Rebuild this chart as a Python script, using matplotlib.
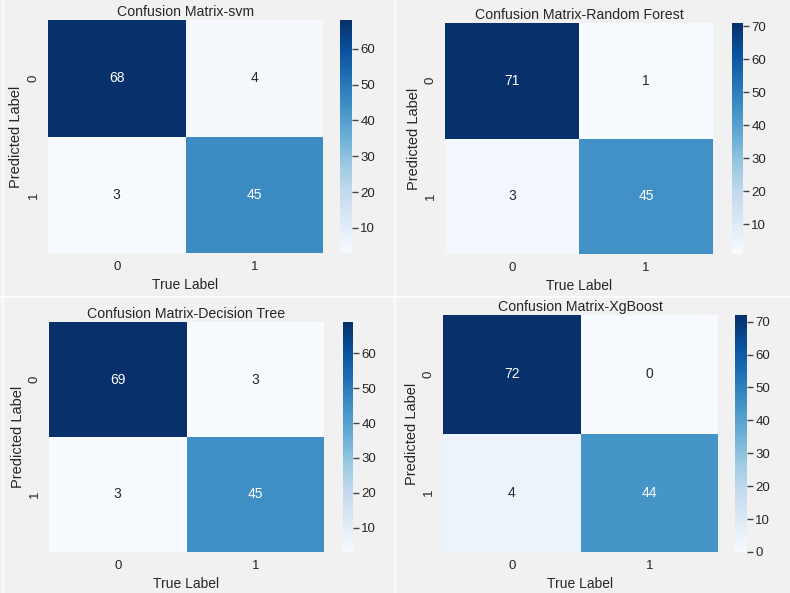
import numpy as np
import matplotlib
matplotlib.use('Agg')
import matplotlib.pyplot as plt
import seaborn as sns

sns.set_style('white')
plt.rcParams['font.family'] = ['Liberation Sans', 'DejaVu Sans']

# confusion matrices (rows = predicted, cols = true)
models = ['svm', 'Random Forest', 'Decision Tree', 'XgBoost']
cm_svm = [[68, 4], [3, 45]]
cm_rf = [[71, 1], [3, 45]]
cm_dt = [[69, 3], [3, 45]]
cm_xgb = [[72, 0], [4, 44]]
labels = ['0', '1']

W, H = 790, 593
BG = '#f1f1f1'

fig = plt.figure(figsize=(W / 100, H / 100), dpi=100, facecolor=BG)

# faint white seams between the pasted panels
fig.add_artist(plt.Line2D([395 / W, 395 / W], [0, 1], color='white', lw=1.2))
fig.add_artist(plt.Line2D([0, 1], [1 - 297 / H, 1 - 297 / H], color='white', lw=1.2))
fig.add_artist(plt.Line2D([3 / W, 3 / W], [0, 1], color='white', lw=1.2))


def px_box(x0, y0, x1, y1):
    return [x0 / W, 1 - y1 / H, (x1 - x0) / W, (y1 - y0) / H]


# heatmap box, colorbar box (pixels: x0, y0, x1, y1)
boxes = [
    ((48, 20, 323, 253), (340, 20, 352, 253)),
    ((445, 23, 713, 254), (732, 23, 743, 254)),
    ((49, 322, 324, 552), (343, 322, 353, 552)),
    ((443, 315, 718, 552), (735, 315, 747, 552)),
]

for name, cm, (hb, cb) in zip(models, [cm_svm, cm_rf, cm_dt, cm_xgb], boxes):
    ax = fig.add_axes(px_box(*hb))
    cax = fig.add_axes(px_box(*cb))
    sns.heatmap(np.array(cm), annot=True, fmt='d', cmap='Blues', ax=ax, cbar_ax=cax,
                xticklabels=labels, yticklabels=labels,
                annot_kws={'fontsize': 10})
    ax.set_title('Confusion Matrix-' + name, fontsize=10.2, pad=3, color='#262626')
    ax.set_xlabel('True Label', fontsize=10, color='#262626', labelpad=3)
    ax.set_ylabel('Predicted Label', fontsize=10.5, color='#262626', labelpad=3)
    ax.tick_params(length=0, labelsize=9.5, colors='#262626', pad=6)
    plt.setp(ax.get_yticklabels(), rotation=90, va='center')
    cax.tick_params(length=4, width=1, labelsize=9.5, colors='#262626', pad=2)
    cax.tick_params(color='#444444')
    for s in cax.spines.values():
        s.set_visible(False)

fig.savefig('out.png', dpi=100, facecolor=BG)
